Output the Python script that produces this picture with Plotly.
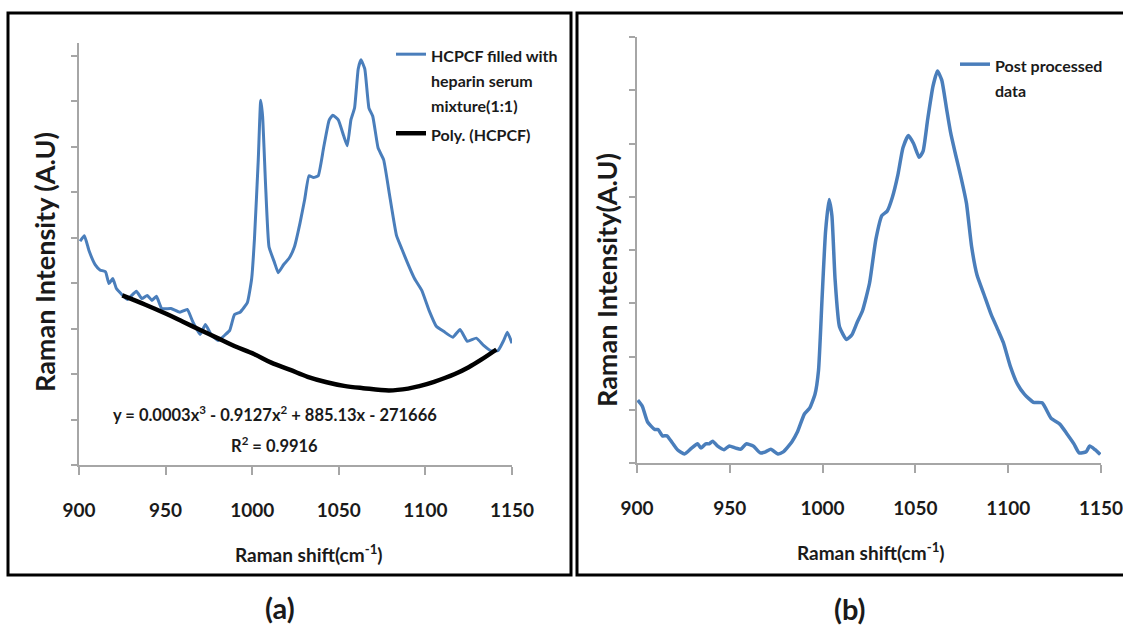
import plotly.graph_objects as go

W, H = 1123, 626

# ---------------- data: panel (a) ----------------
a_shift = [900.6, 903.1, 905.8, 909.4, 912.1, 915.3, 917.3, 919.5, 921.6, 924.7, 927.9,
           933.1, 936.3, 939.4, 942.1, 944.7, 947.8, 953.1, 958.3, 962.5, 965.6, 969.9,
           973.0, 976.2, 980.4, 984.6, 987.0, 989.8, 993.0, 997.2, 999.7, 1001.3, 1003.5,
           1004.9, 1006.0, 1007.7, 1009.7, 1012.9, 1015.0, 1018.2, 1021.2, 1024.4, 1027.6,
           1030.3, 1032.8, 1035.4, 1038.1, 1041.2, 1044.4, 1046.5, 1049.7, 1052.8, 1054.9,
           1057.0, 1059.1, 1061.2, 1062.8, 1065.0, 1067.4, 1069.6, 1072.7, 1075.9, 1079.0,
           1083.3, 1086.4, 1089.6, 1093.7, 1097.9, 1102.1, 1106.3, 1110.5, 1115.8, 1120.0,
           1124.2, 1129.4, 1133.6, 1137.9, 1142.0, 1145.2, 1147.3, 1150.0]
a_intensity = [4.92, 5.04, 4.71, 4.40, 4.29, 4.25, 3.99, 4.10, 3.88, 3.75, 3.64,
               3.82, 3.66, 3.73, 3.62, 3.71, 3.44, 3.44, 3.36, 3.42, 3.16, 2.87,
               3.09, 2.87, 2.74, 2.87, 2.96, 3.31, 3.36, 3.57, 4.10, 4.97, 6.71,
               8.02, 7.67, 6.18, 4.80, 4.45, 4.23, 4.41, 4.54, 4.80, 5.32,
               5.84, 6.36, 6.32, 6.36, 6.97, 7.58, 7.69, 7.59, 7.24, 7.02,
               7.59, 7.85, 8.71, 8.91, 8.71, 7.85, 7.67, 6.97, 6.71, 6.01,
               5.05, 4.75, 4.45, 4.10, 3.84, 3.40, 3.05, 2.94, 2.81, 2.98,
               2.72, 2.79, 2.63, 2.51, 2.52, 2.74, 2.92, 2.68]

poly_shift = [925, 938, 950, 960, 970, 980, 990, 1001, 1011, 1022, 1032, 1043, 1053,
              1064, 1079, 1090, 1096, 1105, 1117, 1125, 1132, 1141]
poly_intensity = [3.73, 3.53, 3.33, 3.15, 2.97, 2.79, 2.61, 2.44, 2.25, 2.09, 1.94, 1.82,
                  1.74, 1.69, 1.64, 1.68, 1.73, 1.83, 2.00, 2.15, 2.31, 2.54]

# ---------------- data: panel (b) ----------------
b_shift = [900.4, 902.8, 905.7, 909.5, 911.4, 913.7, 916.1, 919.0, 921.8, 925.6, 929.4,
           932.6, 934.5, 937.0, 938.9, 940.8, 943.3, 946.9, 949.7, 953.2, 956.0, 958.8,
           962.6, 966.4, 969.3, 972.1, 975.9, 978.8, 983.5, 986.4, 990.2, 993.0, 995.9,
           997.8, 999.7, 1001.6, 1003.5, 1005.0, 1006.7, 1009.1, 1012.9, 1015.8, 1018.6,
           1021.5, 1025.3, 1028.7, 1032.0, 1034.8, 1037.6, 1040.5, 1043.3, 1046.2, 1049.0,
           1052.0, 1054.1, 1056.6, 1059.5, 1061.9, 1064.2, 1066.7, 1068.9, 1071.8, 1074.6,
           1077.5, 1080.3, 1083.2, 1087.0, 1090.8, 1094.6, 1097.4, 1101.2, 1105.0, 1108.8,
           1113.6, 1118.3, 1123.1, 1127.8, 1131.6, 1135.4, 1138.2, 1142.0, 1143.9, 1146.8,
           1149.6]
b_intensity = [1.18, 1.07, 0.77, 0.63, 0.63, 0.51, 0.51, 0.38, 0.25, 0.17, 0.28,
               0.36, 0.28, 0.36, 0.36, 0.41, 0.32, 0.25, 0.32, 0.28, 0.26, 0.36,
               0.32, 0.19, 0.21, 0.26, 0.17, 0.21, 0.40, 0.58, 0.92, 1.03, 1.29,
               1.74, 3.08, 4.35, 4.95, 4.65, 3.46, 2.56, 2.32, 2.41, 2.64,
               2.86, 3.38, 4.20, 4.65, 4.73, 4.99, 5.40, 5.92, 6.15, 6.00,
               5.74, 5.85, 6.45, 7.08, 7.36, 7.19, 6.67, 6.22, 5.77, 5.36,
               4.88, 4.06, 3.53, 3.16, 2.79, 2.49, 2.26, 1.81, 1.48, 1.29,
               1.14, 1.13, 0.84, 0.73, 0.55, 0.36, 0.19, 0.21, 0.32, 0.25,
               0.16]

x_ticks = [900, 950, 1000, 1050, 1100, 1150]
a_y_ticks = [0, 1, 2, 3, 4, 5, 6, 7, 8, 9]
b_y_ticks = [0, 1, 2, 3, 4, 5, 6, 7, 8]

a_legend_lines = ["HCPCF filled with", "heparin serum", "mixture(1:1)"]
poly_legend_lines = ["Poly. (HCPCF)"]
b_legend_lines = ["Post processed", "data"]

BLUE = "#4a7ebb"
AXIS_GRAY = "#a6a6a6"
FONT = "Lato"
TXT = "#1a1a1a"


def px(x):
    return x / W


def py(y):
    return 1 - y / H


def legend_label(lines, size=16):
    return "<br>".join('<span style="font-size:%dpx">%s</span>' % (size, s) for s in lines)


fig = go.Figure()

fig.add_trace(go.Scatter(
    x=a_shift, y=a_intensity, mode="lines", line=dict(color=BLUE, width=3, shape="spline", smoothing=0.4),
    name=legend_label(a_legend_lines), xaxis="x", yaxis="y", legend="legend"))
fig.add_trace(go.Scatter(
    x=poly_shift, y=poly_intensity, mode="lines", line=dict(color="black", width=4.5, shape="spline"),
    name=legend_label(poly_legend_lines), xaxis="x", yaxis="y", legend="legend"))
fig.add_trace(go.Scatter(
    x=b_shift, y=b_intensity, mode="lines", line=dict(color=BLUE, width=3.5, shape="spline", smoothing=0.5),
    name=legend_label(b_legend_lines), xaxis="x2", yaxis="y2", legend="legend2"))

axis_common = dict(
    showgrid=False, zeroline=False, showline=True, linecolor=AXIS_GRAY, linewidth=2,
    ticks="outside", tickcolor=AXIS_GRAY, tickwidth=1.5, automargin=False,
)
xtick_common = dict(range=[900, 1150], tickvals=x_ticks, ticklen=8,
                    tickfont=dict(family=FONT, size=19, color=TXT, weight="bold"),
                    ticklabelstandoff=19, ticklabeloverflow="allow")

fig.update_layout(
    width=W, height=H, margin=dict(l=0, r=0, t=0, b=0, autoexpand=False),
    paper_bgcolor="white", plot_bgcolor="white",
    font=dict(family=FONT, color=TXT),
    xaxis=dict(domain=[px(79), px(512)], anchor="y", **xtick_common, **axis_common),
    yaxis=dict(domain=[py(465), py(43)], range=[0, 9.28], tickvals=a_y_ticks, ticklen=6,
               showticklabels=False, anchor="x", **axis_common),
    xaxis2=dict(domain=[px(637), px(1101)], anchor="y2", **xtick_common, **axis_common),
    yaxis2=dict(domain=[py(463), py(37)], range=[0, 8], tickvals=b_y_ticks, ticklen=6,
                showticklabels=False, anchor="x2", **axis_common),
    legend=dict(x=px(391), y=py(35), xanchor="left", yanchor="top", bgcolor="rgba(0,0,0,0)",
                font=dict(family=FONT, size=19.5, color=TXT, weight="bold"), valign="top",
                tracegroupgap=0, itemwidth=30),
    legend2=dict(x=px(955), y=py(45), xanchor="left", yanchor="top", bgcolor="rgba(0,0,0,0)",
                 font=dict(family=FONT, size=19.5, color=TXT, weight="bold"), valign="top",
                 itemwidth=30),
    showlegend=True,
)

shapes = [
    dict(type="rect", xref="paper", yref="paper", x0=px(8), x1=px(571), y0=py(575), y1=py(13),
         line=dict(color="black", width=3)),
    dict(type="rect", xref="paper", yref="paper", x0=px(577), x1=px(1125), y0=py(575), y1=py(13),
         line=dict(color="black", width=3)),
]
fig.update_layout(shapes=shapes)

ann = []


def text(x, y, s, size, angle=0, weight="bold"):
    ann.append(dict(xref="paper", yref="paper", x=px(x), y=py(y), text=s, showarrow=False,
                    xanchor="center", yanchor="middle", textangle=angle,
                    font=dict(family=FONT, size=size, color=TXT, weight=weight)))


text(309, 553, "Raman shift(cm<sup>-1</sup>)", 19)
text(871, 551, "Raman shift(cm<sup>-1</sup>)", 19)
text(44, 262, "Raman Intensity (A.U)", 27, angle=-90)
text(606, 280, "Raman Intensity(A.U)", 27, angle=-90)
text(275, 414, "y = 0.0003x<sup>3</sup> - 0.9127x<sup>2</sup> + 885.13x - 271666", 16.5)
text(274, 445, "R<sup>2</sup> = 0.9916", 16.5)
text(280, 607, "(a)", 29)
text(850, 608, "(b)", 29)

fig.update_layout(annotations=ann)

fig.write_html("out.html")
